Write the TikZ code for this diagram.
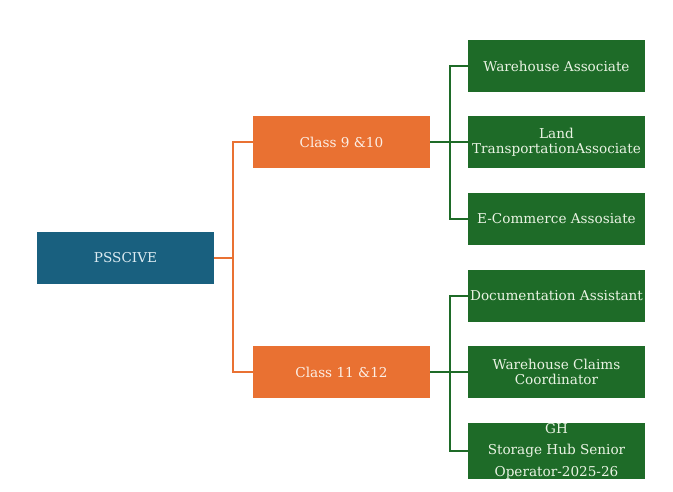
\documentclass[tikz,border=0pt]{standalone}
\usepackage{fontspec}
\setmainfont{DejaVu Serif}
\definecolor{rootblue}{HTML}{19607F}
\definecolor{classorange}{HTML}{E97132}
\definecolor{jobgreen}{HTML}{1E6B28}
\definecolor{rootText}{HTML}{DCEBF2}
\definecolor{classText}{HTML}{FCEFE6}
\definecolor{jobText}{HTML}{EAF3E4}
\begin{document}
\begin{tikzpicture}[x=1pt,y=-1pt,
    box/.style={minimum width=177pt,minimum height=52pt,inner sep=0pt,align=center,
      font=\fontsize{13.6}{15.5}\selectfont},
    rootbox/.style={box,fill=rootblue,text=rootText},
    classbox/.style={box,fill=classorange,text=classText},
    jobbox/.style={box,fill=jobgreen,text=jobText},
    orangeline/.style={classorange,line width=1.6pt},
    greenline/.style={jobgreen,line width=1.6pt}]
  \useasboundingbox (0,0) rectangle (673,491);
  % root and classes
  \node[rootbox] (pss) at (125.5,258) {PSSCIVE};
  \node[classbox] (cnine) at (341.5,142) {Class 9 \&10};
  \node[classbox] (celeven) at (341.5,372) {Class 11 \&12};
  % jobs
  \node[jobbox] (wa) at (556.5,66) {Warehouse Associate};
  \node[jobbox] (lta) at (556.5,142) {Land\\TransportationAssociate};
  \node[jobbox] (eca) at (556.5,219) {E-Commerce Assosiate};
  \node[jobbox] (doc) at (556.5,296) {Documentation Assistant};
  \node[jobbox] (wcc) at (556.5,372) {Warehouse Claims\\Coordinator};
  \node[jobbox,font=\fontsize{13.6}{21.5}\selectfont] (gh) at (556.5,451) {GH\\Storage Hub Senior\\Operator-2025-26};
  % connectors
  \draw[orangeline] (pss.east) -- ++(19,0) |- (cnine.west);
  \draw[orangeline] (pss.east) -- ++(19,0) |- (celeven.west);
  \draw[greenline] (cnine.east) -- ++(20,0) |- (wa.west);
  \draw[greenline] (cnine.east) -- (lta.west);
  \draw[greenline] (cnine.east) -- ++(20,0) |- (eca.west);
  \draw[greenline] (celeven.east) -- ++(20,0) |- (doc.west);
  \draw[greenline] (celeven.east) -- (wcc.west);
  \draw[greenline] (celeven.east) -- ++(20,0) |- (gh.west);
\end{tikzpicture}
\end{document}
